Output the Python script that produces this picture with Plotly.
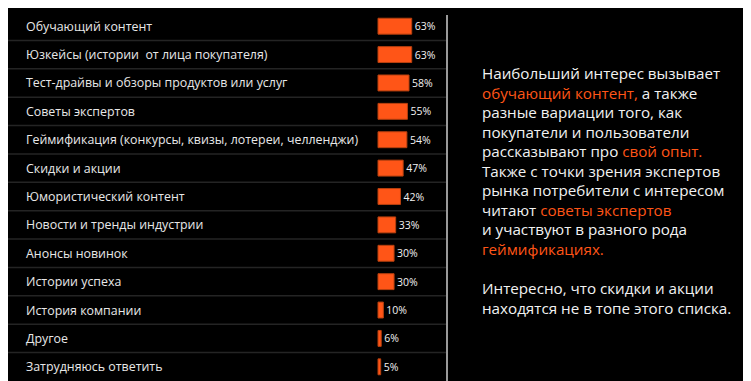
import plotly.graph_objects as go

categories = [
    "Обучающий контент",
    "Юзкейсы (истории  от лица покупателя)",
    "Тест-драйвы и обзоры продуктов или услуг",
    "Советы экспертов",
    "Геймификация (конкурсы, квизы, лотереи, челленджи)",
    "Скидки и акции",
    "Юмористический контент",
    "Новости и тренды индустрии",
    "Анонсы новинок",
    "Истории успеха",
    "История компании",
    "Другое",
    "Затрудняюсь ответить",
]
values = [63, 63, 58, 55, 54, 47, 42, 33, 30, 30, 10, 6, 5]
value_labels = [f"{v}%" for v in values]

ORANGE = "#FF5517"
o = lambda s: f"<span style='color:{ORANGE}'>{s}</span>"
right_lines = [
    "Наибольший интерес вызывает",
    o("обучающий контент,") + " а также",
    "разные вариации того, как",
    "покупатели и пользователи",
    "рассказывают про " + o("свой опыт."),
    "Также с точки зрения экспертов",
    "рынка потребители с интересом",
    "читают " + o("советы экспертов"),
    "и участвуют в разного рода",
    o("геймификациях."),
    "",
    "Интересно, что скидки и акции",
    "находятся не в топе этого списка.",
]

# page body has an 8px margin, so the figure is drawn 8px in from the top-left
OFF = 8
W, H = 751 - OFF, 381 - OFF
ML, MR, MT, MB = 0, W - (447 - OFF), 4, 0
plot_w = W - ML - MR
plot_h = H - MT - MB
px_per_pct = 0.535
left_px = (378 - OFF) - ML
x_min = -left_px / px_per_pct
x_max = (plot_w - left_px) / px_per_pct

fig = go.Figure()
fig.add_trace(go.Bar(
    x=values,
    y=list(range(len(categories))),
    orientation="h",
    width=0.56,
    marker=dict(color=ORANGE, line=dict(color="#B8400F", width=1)),
    text=value_labels,
    textposition="outside",
    textfont=dict(color="#f2f2f2", size=10.5, family="Open Sans"),
    cliponaxis=False,
    hoverinfo="skip",
))

shapes = []
for i in range(len(categories) - 1):
    shapes.append(dict(type="line", xref="paper", yref="y", x0=0, x1=1,
                       y0=i + 0.5, y1=i + 0.5,
                       line=dict(color="#242424", width=1.5), layer="below"))
shapes.append(dict(type="line", xref="paper", yref="paper", x0=1, x1=1,
                   y0=0, y1=(H - MB - (15 - OFF)) / plot_h,
                   line=dict(color="#9a9a9a", width=2)))

annotations = []
for i, c in enumerate(categories):
    annotations.append(dict(text=c, xref="paper", yref="y", x=(16 - ML) / plot_w, y=i,
                            xanchor="left", yanchor="middle", showarrow=False,
                            font=dict(color="#e8e8e8", size=12.4, family="Open Sans")))

line_y0, line_step = 73 - OFF, 19.55
for k, line in enumerate(right_lines):
    if not line:
        continue
    ypx = line_y0 + k * line_step
    annotations.append(dict(text=line, xref="paper", yref="paper",
                            x=(472 - ML) / plot_w, y=(H - MB - ypx) / plot_h,
                            xanchor="left", yanchor="middle", align="left", showarrow=False,
                            font=dict(color="#f2f2f2", size=15.2, family="Open Sans")))

fig.update_layout(
    width=W, height=H,
    margin=dict(l=ML, r=MR, t=MT, b=MB),
    paper_bgcolor="#000000", plot_bgcolor="#000000",
    showlegend=False,
    xaxis=dict(range=[x_min, x_max], visible=False, fixedrange=True),
    yaxis=dict(range=[len(categories) - 0.5, -0.5], visible=False, fixedrange=True),
    shapes=shapes, annotations=annotations,
)
fig.write_html("out.html")
